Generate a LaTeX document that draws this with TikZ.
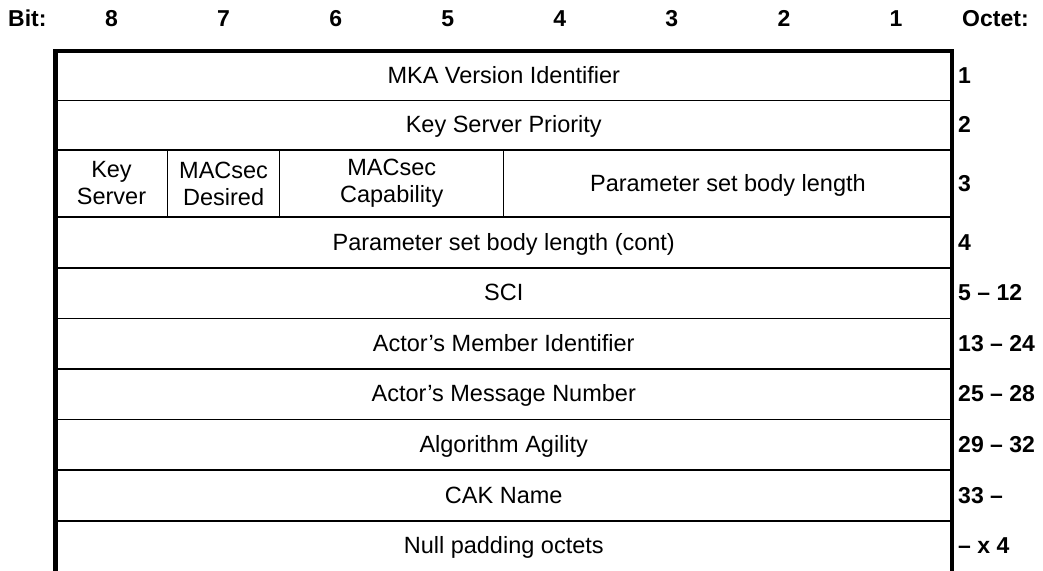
\documentclass[tikz,border=0pt]{standalone}
\usepackage{fontspec}
\setmainfont{Liberation Sans}
\begin{document}
\begin{tikzpicture}[x=1pt,y=-1pt,
  thickline/.style={line width=4.5pt},
  thinline/.style={line width=1.4pt},
  field/.style={inner sep=0pt,align=center,anchor=base,font=\fontsize{23.5pt}{27pt}\selectfont},
  field2/.style={inner sep=0pt,align=center,font=\fontsize{23.5pt}{27pt}\selectfont},
  head/.style={inner sep=0pt,anchor=base,font=\fontsize{23pt}{27pt}\selectfont\bfseries},
  octet/.style={inner sep=0pt,anchor=base west,font=\fontsize{23pt}{27pt}\selectfont\bfseries}]
\clip (0,0) rectangle (1043,570);
\useasboundingbox (0,0) rectangle (1043,570);
% header
\node[head,anchor=base west] (bitlbl) at (8,27) {Bit:};
\foreach \b [count=\i] in {8,7,6,5,4,3,2,1}{
  \node[head] (b\b) at ({55.5+112.06*(\i-0.5)},27) {\b};
}
\node[head,anchor=base west] (octlbl) at (962,27) {Octet:};
% row lines
\foreach \yy in {100.5,150,217,268,318.5,369,419.5,470,521}{
  \draw[thinline] (55.5,\yy) -- (952,\yy);
}
% row 3 verticals
\foreach \xx in {167.56,279.62,503.74}{
  \draw[thinline] (\xx,150) -- (\xx,217);
}
% frame
\draw[thickline] (55.5,580) -- (55.5,51) -- (952,51) -- (952,580);
% fields
\node[field] (f1) at (503.75,83) {MKA Version Identifier};
\node[field] (f2) at (503.75,132.5) {Key Server Priority};
\node[field2] (f3a) at (111.5,183.5) {Key\\Server};
\node[field2] (f3b) at (223.6,183.5) {MACsec\\Desired};
\node[field2] (f3c) at (391.7,183.5) {MACsec\\Capability};
\node[field] (f3d) at (727.9,191) {Parameter set body length};
\node[field] (f4) at (503.75,250) {Parameter set body length (cont)};
\node[field] (f5) at (503.75,300.5) {SCI};
\node[field] (f6) at (503.75,351) {Actor’s Member Identifier};
\node[field] (f7) at (503.75,401.5) {Actor’s Message Number};
\node[field] (f8) at (503.75,452) {Algorithm Agility};
\node[field] (f9) at (503.75,503) {CAK Name};
\node[field] (f10) at (503.75,553.5) {Null padding octets};
% octet numbers
\node[octet] (o1) at (958,83) {1};
\node[octet] (o2) at (958,132.5) {2};
\node[octet] (o3) at (958,191) {3};
\node[octet] (o4) at (958,250) {4};
\node[octet] (o5) at (958,300.5) {5 – 12};
\node[octet] (o6) at (958,351) {13 – 24};
\node[octet] (o7) at (958,401.5) {25 – 28};
\node[octet] (o8) at (958,452) {29 – 32};
\node[octet] (o9) at (958,503) {33 –};
\node[octet] (o10) at (958,553.5) {– x 4};
\end{tikzpicture}
\end{document}
